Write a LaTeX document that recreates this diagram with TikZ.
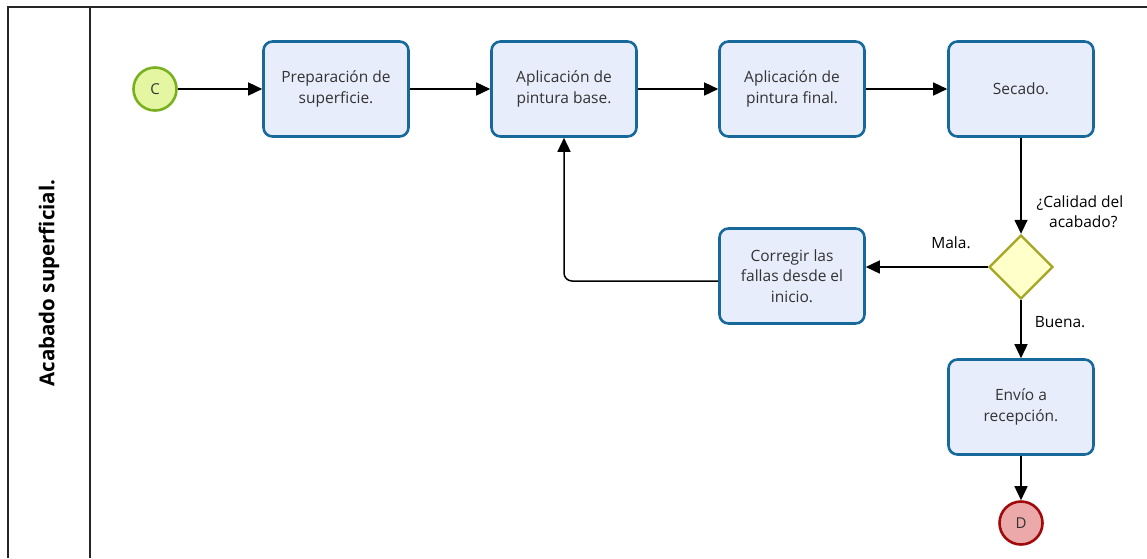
\documentclass[tikz,border=0pt]{standalone}
\usepackage{fontspec}
\setmainfont{Open Sans}
\usetikzlibrary{
    arrows.meta,
    shapes.geometric,
    positioning
}
\definecolor{procfill}{HTML}{E8EDFB}
\definecolor{procline}{HTML}{16699A}
\definecolor{startfill}{HTML}{E5F6A2}
\definecolor{startline}{HTML}{78B01E}
\definecolor{gatefill}{HTML}{FFFFC9}
\definecolor{gateline}{HTML}{A5A625}
\definecolor{endfill}{HTML}{EBA9A9}
\definecolor{endline}{HTML}{A00A0A}
\definecolor{txt}{HTML}{333333}
\tikzset{
    proc/.style={draw=procline, fill=procfill, line width=2.6pt, rounded corners=9pt,
        minimum width=145pt, minimum height=95pt, align=center, text=txt,
        font=\fontsize{15.5}{20.5}\selectfont},
    startev/.style={circle, draw=startline, fill=startfill, line width=2.6pt,
        minimum size=43pt, inner sep=0pt, text=txt, font=\fontsize{15}{17}\selectfont},
    endev/.style={circle, draw=endline, fill=endfill, line width=2.6pt,
        minimum size=43pt, inner sep=0pt, text=txt, font=\fontsize{15}{17}\selectfont},
    gate/.style={diamond, aspect=1, draw=gateline, fill=gatefill, line width=2.4pt,
        minimum size=64pt, inner sep=0pt},
    flow/.style={draw=black, line width=1.5pt, -{Triangle[length=14pt, width=13pt]}},
    lbl/.style={text=black, font=\fontsize{15.5}{20}\selectfont, align=center},
    lane/.style={draw=black!85, line width=1.6pt}
}
\begin{document}
\begin{tikzpicture}[x=1pt, y=-1pt]
    \useasboundingbox[fill=white] (0, 0) rectangle (1147, 558);
    % pool
    \draw[lane] (8, 558) -- (8, 7) -- (1147, 7);
    \draw[lane] (90, 7) -- (90, 558);
    \node[rotate=90, font=\bfseries\fontsize{20.5}{24}\selectfont] (lanename) at (49, 283) {Acabado superficial.};
    % events and tasks
    \node[startev] (inicio) at (155, 89) {C};
    \node[proc] (prep) at (336, 89) {Preparación de\\superficie.};
    \node[proc] (base) at (564, 89) {Aplicación de\\pintura base.};
    \node[proc] (final) at (792, 89) {Aplicación de\\pintura final.};
    \node[proc] (secado) at (1021, 89) {Secado.};
    \node[gate] (calidad) at (1021, 267) {};
    \node[proc] (corregir) at (792, 276) {Corregir las\\fallas desde el\\inicio.};
    \node[proc] (envio) at (1021, 407) {Envío a\\recepción.};
    \node[endev] (fin) at (1021, 523) {D};
    % flows
    \draw[flow] (inicio) -- (prep);
    \draw[flow] (prep) -- (base);
    \draw[flow] (base) -- (final);
    \draw[flow] (final) -- (secado);
    \draw[flow] (secado) -- (calidad);
    \draw[flow] (calidad.west) -- (calidad.west -| corregir.east);
    \draw[flow, rounded corners=8pt] (corregir.west |- 0, 281) -| (base.south);
    \draw[flow] (calidad) -- (envio);
    \draw[flow] (envio) -- (fin);
    % labels
    \node[lbl] (pregunta) at (1080, 212) {¿Calidad del\\\hphantom{¿}acabado?};
    \node[lbl] (mala) at (951, 243) {Mala.};
    \node[lbl] (buena) at (1060, 322) {Buena.};
\end{tikzpicture}
\end{document}
